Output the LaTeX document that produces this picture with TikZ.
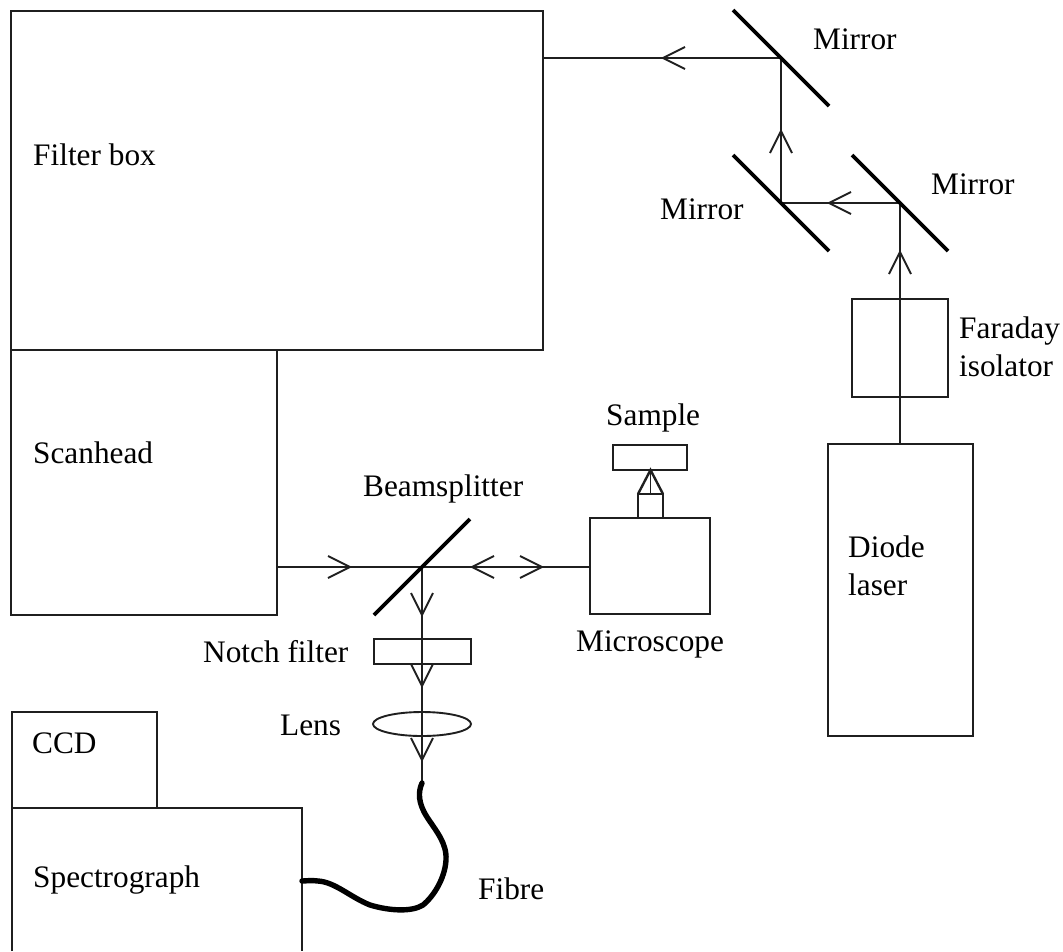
\documentclass[tikz,border=0pt]{standalone}
\usepackage{fontspec}
\setmainfont{Liberation Serif}
\usetikzlibrary{calc,shapes.geometric}
\tikzset{
  x=1pt,y=-1pt,
  thinline/.style={line width=1.9pt,black!88},
  mirrorline/.style={line width=3.8pt,black},
  fibreline/.style={line width=5.4pt,black,line cap=round,line join=round},
  box/.style={draw=black!88,line width=1.9pt,inner sep=0pt,outer sep=0pt},
  lbl/.style={font=\fontsize{31.3}{34}\selectfont,inner sep=0pt,text=black,anchor=base west,align=left},
}
\newcommand{\barb}[3]{\draw[thinline,shift={(#1,#2)},rotate=#3] (-22,-11) -- (0,0) -- (-22,11);}
\newcommand{\boxat}[5]{\node[box,minimum width=#4-#2,minimum height=#5-#3] (#1) at ({(#2+#4)/2},{(#3+#5)/2}) {};}
\begin{document}
\begin{tikzpicture}
\useasboundingbox[fill=white] (0,0) rectangle (1063,951);
% boxes
\boxat{filter}{11}{11}{543}{350}
\boxat{scan}{11}{350}{277}{615}
\boxat{faraday}{852}{299}{948}{397}
\boxat{laser}{828}{444}{973}{736}
\boxat{micro}{590}{518}{710}{614}
\boxat{sample}{613}{445}{687}{470}
\boxat{objective}{638}{494}{663}{518}
\boxat{notch}{374}{639}{471}{664}
\boxat{ccd}{12}{712}{157}{808}
\draw[thinline] (12,951) -- (12,808) -- (302,808) -- (302,951);
\coordinate (spec) at (302,881);
\node[draw=black!88,line width=1.9pt,ellipse,inner sep=0pt,outer sep=0pt,minimum width=98pt,minimum height=24pt] (lens) at (422,724) {};
% mirror junctions
\coordinate (mA) at (781,58);
\coordinate (mB) at (781,203);
\coordinate (mC) at (900,203);
\coordinate (bs) at (422,567);
\coordinate (fibrestart) at (422,783);
% beam
\draw[thinline] (laser.north -| mC) -- (mC) -- (mB) -- (mA) -- (mA -| filter.east);
\draw[thinline] (scan.east |- bs) -- (micro.west |- bs);
\draw[thinline] (bs) -- (fibrestart);
% mirrors
\draw[mirrorline] ($(mA)+(-48,-48)$) -- ($(mA)+(48,48)$);
\draw[mirrorline] ($(mB)+(-48,-48)$) -- ($(mB)+(48,48)$);
\draw[mirrorline] ($(mC)+(-48,-48)$) -- ($(mC)+(48,48)$);
\draw[mirrorline] ($(bs)+(-48,48)$) -- ($(bs)+(48,-48)$);
% objective cone
\draw[thinline] (sample.south -| objective.north) -- (objective.north);
\draw[thinline,line width=2.4pt] (objective.north west) -- (sample.south -| objective.north) -- (objective.north east);
% arrowheads
\barb{663}{58}{180}
\barb{781}{131}{90}
\barb{829}{203}{180}
\barb{900}{252}{90}
\barb{350}{567}{0}
\barb{472}{567}{180}
\barb{542}{567}{0}
\barb{422}{615}{-90}
\barb{422}{686}{-90}
\barb{422}{760}{-90}
% fibre
\draw[fibreline] (fibrestart) .. controls (418,792) and (418,803) .. (427,817)
  .. controls (436,831) and (447,843) .. (446,860)
  .. controls (445,878) and (434,896) .. (423,905)
  .. controls (412,912) and (390,911) .. (370,905)
  .. controls (350,897) and (335,882) .. (318,881)
  .. controls (311,880) and (306,881) .. (spec);
% labels
\node[lbl] (t1) at (33,165) {Filter box};
\node[lbl] (t2) at (33,463) {Scanhead};
\node[lbl] (t3) at (32,753) {CCD};
\node[lbl] (t4) at (33,887) {Spectrograph};
\node[lbl] (t5) at (813,49) {Mirror};
\node[lbl] (t6) at (660,219) {Mirror};
\node[lbl] (t7) at (931,194) {Mirror};
\node[lbl] (t8) at (959,338) {Faraday};
\node[lbl] (t9) at (959,376) {isolator};
\node[lbl] (t10) at (606,425) {Sample};
\node[lbl] (t11) at (363,496) {Beamsplitter};
\node[lbl] (t12) at (848,557) {Diode};
\node[lbl] (t13) at (848,595) {laser};
\node[lbl] (t14) at (203,662) {Notch filter};
\node[lbl] (t15) at (576,651) {Microscope};
\node[lbl] (t16) at (280,735) {Lens};
\node[lbl] (t17) at (478,899) {Fibre};
\end{tikzpicture}
\end{document}
